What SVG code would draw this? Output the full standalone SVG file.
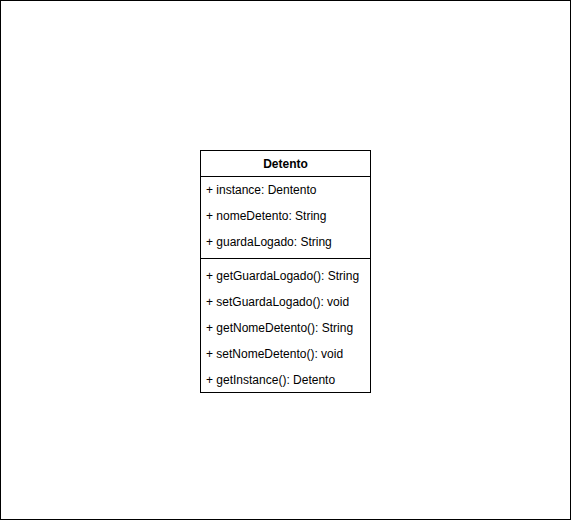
<svg xmlns="http://www.w3.org/2000/svg" width="571" height="521" viewBox="0 0 571 521">
<style>
.t{font-family:"Liberation Sans",Arial,sans-serif;font-size:12px;fill:#000}
.b{font-weight:bold}
.ln{stroke:#000;stroke-width:1;fill:none}
</style>
<rect x="0" y="0" width="571" height="521" fill="#fff"/>
<rect class="ln" x="0.5" y="0.5" width="570" height="519"/>
<g id="Detento">
<rect x="200.5" y="150.5" width="170" height="242" fill="#fff" stroke="#000"/>
<line class="ln" x1="200.5" y1="176.5" x2="370.5" y2="176.5"/>
<text class="t b" x="285.5" y="168" text-anchor="middle">Detento</text>
<text class="t" x="206" y="194">+ instance: Dentento</text>
<text class="t" x="206" y="220">+ nomeDetento: String</text>
<text class="t" x="206" y="246">+ guardaLogado: String</text>
<line class="ln" x1="200.5" y1="258.5" x2="370.5" y2="258.5"/>
<text class="t" x="206" y="280">+ getGuardaLogado(): String</text>
<text class="t" x="206" y="306">+ setGuardaLogado(): void</text>
<text class="t" x="206" y="332">+ getNomeDetento(): String</text>
<text class="t" x="206" y="358">+ setNomeDetento(): void</text>
<text class="t" x="206" y="384">+ getInstance(): Detento</text>
</g>
<g id="connectors"></g>
</svg>
